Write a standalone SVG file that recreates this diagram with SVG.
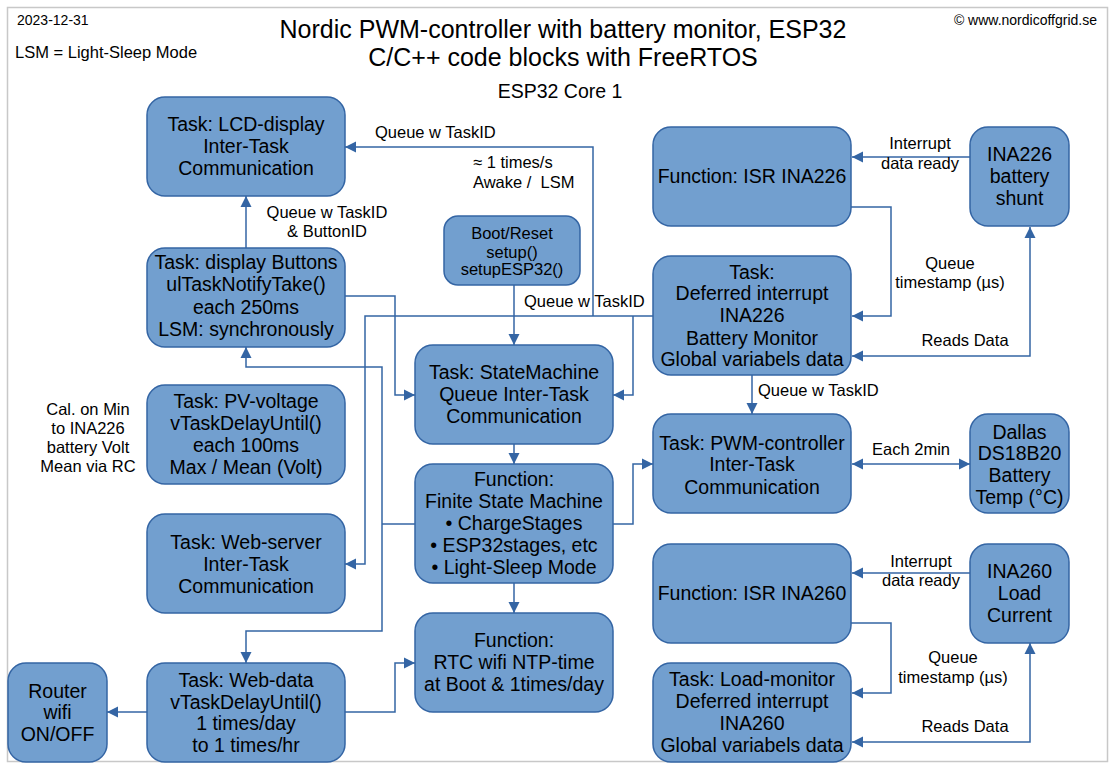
<svg xmlns="http://www.w3.org/2000/svg" width="1117" height="771" viewBox="0 0 1117 771">
<style>
  text { font-family: "Liberation Sans", Arial, sans-serif; fill: #000; }
  .node rect { fill: #729fcf; stroke: #3465a4; stroke-width: 1.5; }
  .nt { font-size: 19.5px; text-anchor: middle; }
  .bt { font-size: 16.5px; text-anchor: middle; }
  .lb { font-size: 16.5px; white-space: pre; }
  .lbm { font-size: 16.5px; text-anchor: middle; }
  .conn path { fill: none; stroke: #3465a4; stroke-width: 1.5; }
</style>
<defs>
  <marker id="ah" markerUnits="userSpaceOnUse" markerWidth="12" markerHeight="12" viewBox="0 0 12 12" refX="11" refY="6" orient="auto-start-reverse">
    <path d="M0,0.5 L11,6 L0,11.5 z" fill="#3465a4"/>
  </marker>
</defs>
<rect x="0" y="0" width="1117" height="771" fill="#fff"/>
<rect x="7.5" y="7.5" width="1100" height="754" fill="none" stroke="#c8c8c8" stroke-width="1.5"/>

<g id="header">
  <text x="17" y="25" style="font-size:14px">2023-12-31</text>
  <text x="15" y="58" style="font-size:16.5px">LSM = Light-Sleep Mode</text>
  <text x="1097" y="25" style="font-size:14px;text-anchor:end">© www.nordicoffgrid.se</text>
  <text x="563" y="38" style="font-size:25px;text-anchor:middle">Nordic PWM-controller with battery monitor, ESP32</text>
  <text x="563" y="66" style="font-size:25px;text-anchor:middle">C/C++ code blocks with FreeRTOS</text>
  <text x="560" y="98" style="font-size:19.5px;text-anchor:middle">ESP32 Core 1</text>
  <text class="lbm" x="88" y="415">Cal. on Min</text>
  <text class="lbm" x="88" y="434">to INA226</text>
  <text class="lbm" x="88" y="453">battery Volt</text>
  <text class="lbm" x="88" y="472">Mean via RC</text>
</g>

<g id="connectors" class="conn">
  <path d="M970,157 H852" marker-end="url(#ah)"/>
  <path d="M851,207 H891 V316 H852" marker-end="url(#ah)"/>
  <path d="M1030,227 V356 H852" marker-start="url(#ah)" marker-end="url(#ah)"/>
  <path d="M752,375 V414" marker-end="url(#ah)"/>
  <path d="M653,316 H365 V564 H345" marker-end="url(#ah)"/>
  <path d="M593,316 V147 H345" marker-end="url(#ah)"/>
  <path d="M633,316 V395 H613" marker-end="url(#ah)"/>
  <path d="M345,296 H395 V395 H415" marker-end="url(#ah)"/>
  <path d="M246,248 V196" marker-end="url(#ah)"/>
  <path d="M514,285 V345" marker-end="url(#ah)"/>
  <path d="M514,444 V464" marker-end="url(#ah)"/>
  <path d="M514,583 V613" marker-end="url(#ah)"/>
  <path d="M613,524 H633 V464 H653" marker-end="url(#ah)"/>
  <path d="M415,524 H382"/>
  <path d="M382,524 V367 H246 V347" marker-end="url(#ah)"/>
  <path d="M382,524 V631 H246 V663" marker-end="url(#ah)"/>
  <path d="M345,712 H395 V663 H415" marker-end="url(#ah)"/>
  <path d="M147,712 H107" marker-end="url(#ah)"/>
  <path d="M852,464 H970" marker-start="url(#ah)" marker-end="url(#ah)"/>
  <path d="M970,573 H852" marker-end="url(#ah)"/>
  <path d="M851,623 H891 V693 H852" marker-end="url(#ah)"/>
  <path d="M1030,643 V742 H852" marker-start="url(#ah)" marker-end="url(#ah)"/>
</g>

<g id="labels">
  <text class="lb" x="375" y="138">Queue w TaskID</text>
  <text class="lb" x="473" y="168">≈ 1 times/s</text>
  <text class="lb" x="473" y="188">Awake /  LSM</text>
  <text class="lbm" x="327" y="218">Queue w TaskID</text>
  <text class="lbm" x="327" y="237">&amp; ButtonID</text>
  <text class="lb" x="524" y="307">Queue w TaskID</text>
  <text class="lbm" x="920" y="149">Interrupt</text>
  <text class="lbm" x="920" y="169">data ready</text>
  <text class="lbm" x="950" y="269">Queue</text>
  <text class="lbm" x="950" y="288">timestamp (µs)</text>
  <text class="lbm" x="965" y="346">Reads Data</text>
  <text class="lb" x="758" y="396">Queue w TaskID</text>
  <text class="lbm" x="911" y="455">Each 2min</text>
  <text class="lbm" x="921" y="567">Interrupt</text>
  <text class="lbm" x="921" y="586">data ready</text>
  <text class="lbm" x="953" y="663">Queue</text>
  <text class="lbm" x="953" y="683">timestamp (µs)</text>
  <text class="lbm" x="965" y="732">Reads Data</text>
</g>

<g id="n-lcd" class="node">
  <rect x="147" y="97" width="198" height="99" rx="18"/>
  <text class="nt" x="246" y="131">Task: LCD-display</text>
  <text class="nt" x="246" y="153">Inter-Task</text>
  <text class="nt" x="246" y="175">Communication</text>
</g>
<g id="n-buttons" class="node">
  <rect x="147" y="248" width="198" height="99" rx="18"/>
  <text class="nt" x="246" y="269">Task: display Buttons</text>
  <text class="nt" x="246" y="291">ulTaskNotifyTake()</text>
  <text class="nt" x="246" y="314">each 250ms</text>
  <text class="nt" x="246" y="336">LSM: synchronously</text>
</g>
<g id="n-pv" class="node">
  <rect x="147" y="385" width="198" height="99" rx="18"/>
  <text class="nt" x="246" y="408">Task: PV-voltage</text>
  <text class="nt" x="246" y="430">vTaskDelayUntil()</text>
  <text class="nt" x="246" y="452">each 100ms</text>
  <text class="nt" x="246" y="474">Max / Mean (Volt)</text>
</g>
<g id="n-webserver" class="node">
  <rect x="147" y="514" width="198" height="99" rx="18"/>
  <text class="nt" x="246" y="549">Task: Web-server</text>
  <text class="nt" x="246" y="571">Inter-Task</text>
  <text class="nt" x="246" y="593">Communication</text>
</g>
<g id="n-webdata" class="node">
  <rect x="147" y="663" width="198" height="99" rx="18"/>
  <text class="nt" x="246" y="687">Task: Web-data</text>
  <text class="nt" x="246" y="709">vTaskDelayUntil()</text>
  <text class="nt" x="246" y="730">1 times/day</text>
  <text class="nt" x="246" y="752">to 1 times/hr</text>
</g>
<g id="n-router" class="node">
  <rect x="8" y="663" width="99" height="99" rx="18"/>
  <text class="nt" x="57.5" y="698">Router</text>
  <text class="nt" x="57.5" y="719">wifi</text>
  <text class="nt" x="57.5" y="741">ON/OFF</text>
</g>
<g id="n-boot" class="node">
  <rect x="444" y="216" width="136" height="69" rx="14"/>
  <text class="bt" x="512" y="239">Boot/Reset</text>
  <text class="bt" x="512" y="258">setup()</text>
  <text class="bt" x="512" y="275">setupESP32()</text>
</g>
<g id="n-statemachine" class="node">
  <rect x="415" y="345" width="198" height="99" rx="18"/>
  <text class="nt" x="514" y="379">Task: StateMachine</text>
  <text class="nt" x="514" y="401">Queue Inter-Task</text>
  <text class="nt" x="514" y="423">Communication</text>
</g>
<g id="n-fsm" class="node">
  <rect x="415" y="464" width="198" height="119" rx="18"/>
  <text class="nt" x="514" y="486">Function:</text>
  <text class="nt" x="514" y="508">Finite State Machine</text>
  <text class="nt" x="514" y="530">• ChargeStages</text>
  <text class="nt" x="514" y="552">• ESP32stages, etc</text>
  <text class="nt" x="514" y="574">• Light-Sleep Mode</text>
</g>
<g id="n-rtc" class="node">
  <rect x="415" y="613" width="198" height="99" rx="18"/>
  <text class="nt" x="514" y="647">Function:</text>
  <text class="nt" x="514" y="669">RTC wifi NTP-time</text>
  <text class="nt" x="514" y="691">at Boot &amp; 1times/day</text>
</g>
<g id="n-isr226" class="node">
  <rect x="653" y="127" width="198" height="99" rx="18"/>
  <text class="nt" x="752" y="183">Function: ISR INA226</text>
</g>
<g id="n-def226" class="node">
  <rect x="653" y="256" width="198" height="119" rx="18"/>
  <text class="nt" x="752" y="279">Task:</text>
  <text class="nt" x="752" y="300">Deferred interrupt</text>
  <text class="nt" x="752" y="322">INA226</text>
  <text class="nt" x="752" y="345">Battery Monitor</text>
  <text class="nt" x="752" y="366">Global variabels data</text>
</g>
<g id="n-pwm" class="node">
  <rect x="653" y="414" width="198" height="99" rx="18"/>
  <text class="nt" x="752" y="450">Task: PWM-controller</text>
  <text class="nt" x="752" y="471">Inter-Task</text>
  <text class="nt" x="752" y="494">Communication</text>
</g>
<g id="n-isr260" class="node">
  <rect x="653" y="544" width="198" height="99" rx="18"/>
  <text class="nt" x="752" y="600">Function: ISR INA260</text>
</g>
<g id="n-load" class="node">
  <rect x="653" y="663" width="198" height="99" rx="18"/>
  <text class="nt" x="752" y="686">Task: Load-monitor</text>
  <text class="nt" x="752" y="708">Deferred interrupt</text>
  <text class="nt" x="752" y="730">INA260</text>
  <text class="nt" x="752" y="752">Global variabels data</text>
</g>
<g id="n-shunt" class="node">
  <rect x="970" y="127" width="99" height="99" rx="18"/>
  <text class="nt" x="1019.5" y="161">INA226</text>
  <text class="nt" x="1019.5" y="183">battery</text>
  <text class="nt" x="1019.5" y="205">shunt</text>
</g>
<g id="n-dallas" class="node">
  <rect x="970" y="414" width="99" height="99" rx="18"/>
  <text class="nt" x="1019.5" y="439">Dallas</text>
  <text class="nt" x="1019.5" y="460">DS18B20</text>
  <text class="nt" x="1019.5" y="482">Battery</text>
  <text class="nt" x="1019.5" y="504">Temp (°C)</text>
</g>
<g id="n-ina260" class="node">
  <rect x="970" y="544" width="99" height="99" rx="18"/>
  <text class="nt" x="1019.5" y="578">INA260</text>
  <text class="nt" x="1019.5" y="600">Load</text>
  <text class="nt" x="1019.5" y="622">Current</text>
</g>
</svg>
